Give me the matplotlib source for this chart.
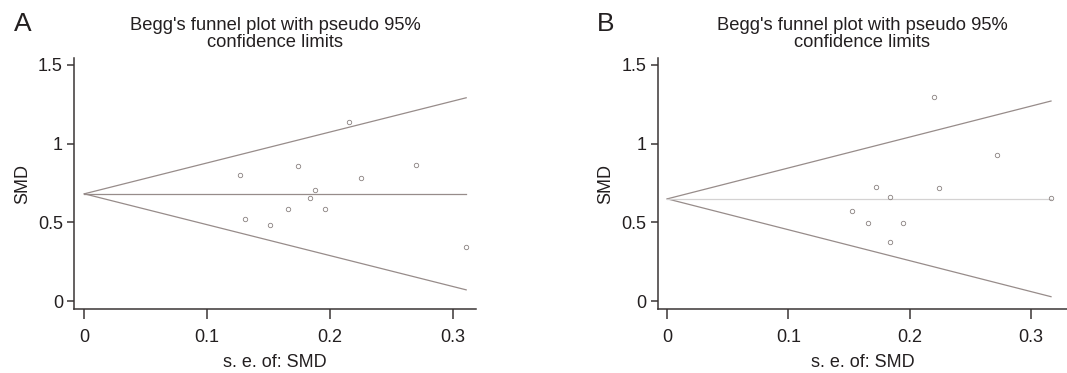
import numpy as np
import matplotlib
matplotlib.use('Agg')
import matplotlib.pyplot as plt

plt.rcParams['font.family'] = ['Liberation Sans', 'DejaVu Sans']

# panel A
se_a = [0.127, 0.131, 0.151, 0.166, 0.174, 0.184, 0.188, 0.196, 0.2155, 0.225, 0.270, 0.311]
smd_a = [0.799, 0.523, 0.481, 0.583, 0.860, 0.653, 0.705, 0.583, 1.140, 0.782, 0.862, 0.345]
pooled_a = 0.682

# panel B
se_b = [0.1525, 0.1654, 0.172, 0.184, 0.184, 0.195, 0.220, 0.224, 0.272, 0.3168]
smd_b = [0.570, 0.498, 0.725, 0.663, 0.377, 0.498, 1.297, 0.716, 0.926, 0.653]
pooled_b = 0.650

xticks = [0, 0.1, 0.2, 0.3]
xticklabels = ['0', '0.1', '0.2', '0.3']
yticks = [0, 0.5, 1, 1.5]
yticklabels = ['0', '0.5', '1', '1.5']

title = "Begg's funnel plot with pseudo 95%\nconfidence limits"

fig = plt.figure(figsize=(10.67, 3.73), dpi=100)

W, H = 1067, 373
ax_a = fig.add_axes([74 / W, (H - 309.3) / H, 402 / W, 251.3 / H])
ax_b = fig.add_axes([657.7 / W, (H - 309.3) / H, (1067 - 657.7) / W, 251.3 / H])


def funnel(ax, se, smd, pooled, xlim, pooled_color):
    se = np.array(se)
    smd = np.array(smd)
    smax = se.max()
    xs = np.array([0, smax])
    ax.plot(xs, pooled + 1.96 * xs, color='#978c8a', lw=0.9)
    ax.plot(xs, pooled - 1.96 * xs, color='#978c8a', lw=0.9)
    ax.plot(xs, [pooled, pooled], color=pooled_color, lw=0.9)
    ax.plot(se, smd, 'o', mfc='none', mec='#8a8280', ms=3.2, mew=0.6)
    ax.set_xlim(*xlim)
    ax.set_ylim(-0.051, 1.544)
    ax.set_xticks(xticks)
    ax.set_xticklabels(xticklabels)
    ax.set_yticks(yticks)
    ax.set_yticklabels(yticklabels)
    for s in ['top', 'right']:
        ax.spines[s].set_visible(False)
    for s in ['left', 'bottom']:
        ax.spines[s].set_color('#3a3535')
        ax.spines[s].set_linewidth(1.1)
    ax.tick_params(axis='x', length=7, width=1.1, color='#3a3535', labelsize=13,
                   pad=7, labelcolor='#231f20')
    ax.tick_params(axis='y', length=5, width=1.1, color='#3a3535', labelsize=13,
                   pad=3, labelcolor='#231f20')
    ax.set_xlabel('s. e. of: SMD', fontsize=13, color='#231f20', labelpad=6)
    ax.set_ylabel('SMD', fontsize=13, color='#231f20', labelpad=5)
    ax.set_title(title, fontsize=13.2, color='#231f20', pad=8, linespacing=1.0)


funnel(ax_a, se_a, smd_a, pooled_a, (-0.0084, 0.319), '#978c8a')
funnel(ax_b, se_b, smd_b, pooled_b, (-0.0079, 0.330), '#d4d2d2')

fig.text(23 / W, 1 - 24 / H, 'A', fontsize=19, ha='center', va='center', color='#231f20')
fig.text(606 / W, 1 - 24 / H, 'B', fontsize=19, ha='center', va='center', color='#231f20')

fig.savefig('out.png', dpi=100)
